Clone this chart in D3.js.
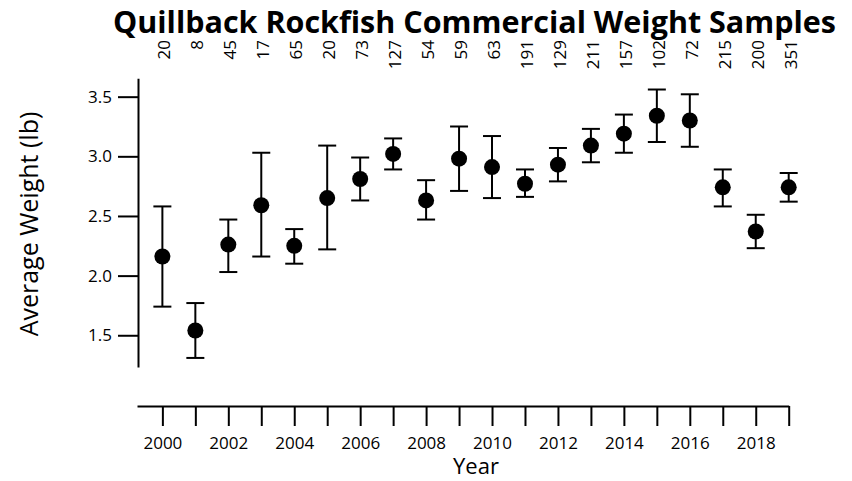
<!DOCTYPE html>
<html>
<head>
<meta charset="utf-8">
<script src="https://cdn.jsdelivr.net/npm/d3@7"></script>
<style>
  html, body { margin: 0; padding: 0; background: #fff; }
  svg { display: block; }
  text { font-family: "Open Sans", "Noto Sans", sans-serif; fill: #000; }
</style>
</head>
<body>
<svg id="chart" width="852" height="481"></svg>
<script>
const years = [2000,2001,2002,2003,2004,2005,2006,2007,2008,2009,2010,2011,2012,2013,2014,2015,2016,2017,2018,2019];
const meanWeight = [2.16,1.54,2.26,2.59,2.25,2.65,2.81,3.02,2.63,2.98,2.91,2.77,2.93,3.09,3.19,3.34,3.30,2.74,2.37,2.74];
const upperCI    = [2.58,1.77,2.47,3.03,2.39,3.09,2.99,3.15,2.80,3.25,3.17,2.89,3.07,3.23,3.35,3.56,3.52,2.89,2.51,2.86];
const lowerCI    = [1.74,1.31,2.03,2.16,2.10,2.22,2.63,2.89,2.47,2.71,2.65,2.66,2.79,2.95,3.03,3.12,3.08,2.58,2.23,2.62];
const sampleSizes = ["20","8","45","17","65","20","73","127","54","59","63","191","129","211","157","102","72","215","200","351"];
const yTicks = [1.5, 2.0, 2.5, 3.0, 3.5];
const xTickLabels = [2000,2002,2004,2006,2008,2010,2012,2014,2016,2018];

const svg = d3.select("#chart");

const x = d3.scaleLinear().domain([1999.23, 2019]).range([137, 788.7]);
const y = d3.scaleLinear().domain([1.234, 3.654]).range([367, 78.3]);

// Title
svg.append("text")
  .attr("x", 474.5).attr("y", 33)
  .attr("text-anchor", "middle")
  .attr("font-size", 31).attr("font-weight", 700)
  .attr("textLength", 723).attr("lengthAdjust", "spacingAndGlyphs")
  .text("Quillback Rockfish Commercial Weight Samples");

// Sample sizes (rotated, top)
svg.append("g").selectAll("text").data(years).join("text")
  .attr("transform", (d) => `translate(${x(d) + 8},40) rotate(-90)`)
  .attr("text-anchor", "end")
  .attr("font-size", 17)
  .text((d, i) => sampleSizes[i]);

// Y axis
const yAxis = d3.axisLeft(y).tickValues(yTicks).tickFormat(d3.format(".1f"))
  .tickSize(20).tickSizeOuter(0).tickPadding(6);
const gy = svg.append("g").attr("transform", "translate(138,0)").call(yAxis);
gy.selectAll("path, line").attr("stroke", "#000").attr("stroke-width", 2);
gy.selectAll("text").attr("font-size", 17).attr("font-family", "Open Sans");

// X axis
const xAxis = d3.axisBottom(x).tickValues(years)
  .tickFormat((d) => xTickLabels.includes(d) ? String(d) : "")
  .tickSize(20).tickSizeOuter(0).tickPadding(11);
const gx = svg.append("g").attr("transform", "translate(0,406)").call(xAxis);
gx.selectAll("path, line").attr("stroke", "#000").attr("stroke-width", 2);
gx.selectAll("text").attr("font-size", 17).attr("font-family", "Open Sans");

// Axis titles
svg.append("text")
  .attr("x", 476).attr("y", 474)
  .attr("text-anchor", "middle").attr("font-size", 22)
  .text("Year");
svg.append("text")
  .attr("transform", "translate(38,224) rotate(-90)")
  .attr("text-anchor", "middle").attr("font-size", 25)
  .text("Average Weight (lb)");

// Error bars
const eb = svg.append("g").attr("stroke", "#000").attr("stroke-width", 2);
eb.selectAll("line.v").data(years).join("line").attr("class", "v")
  .attr("x1", (d) => x(d)).attr("x2", (d) => x(d))
  .attr("y1", (d, i) => y(upperCI[i])).attr("y2", (d, i) => y(lowerCI[i]));
eb.selectAll("line.u").data(years).join("line").attr("class", "u")
  .attr("x1", (d) => x(d) - 9).attr("x2", (d) => x(d) + 9)
  .attr("y1", (d, i) => y(upperCI[i])).attr("y2", (d, i) => y(upperCI[i]));
eb.selectAll("line.l").data(years).join("line").attr("class", "l")
  .attr("x1", (d) => x(d) - 9).attr("x2", (d) => x(d) + 9)
  .attr("y1", (d, i) => y(lowerCI[i])).attr("y2", (d, i) => y(lowerCI[i]));

// Points
svg.append("g").selectAll("circle").data(years).join("circle")
  .attr("cx", (d) => x(d)).attr("cy", (d, i) => y(meanWeight[i]))
  .attr("r", 8).attr("fill", "#000");
</script>
</body>
</html>
